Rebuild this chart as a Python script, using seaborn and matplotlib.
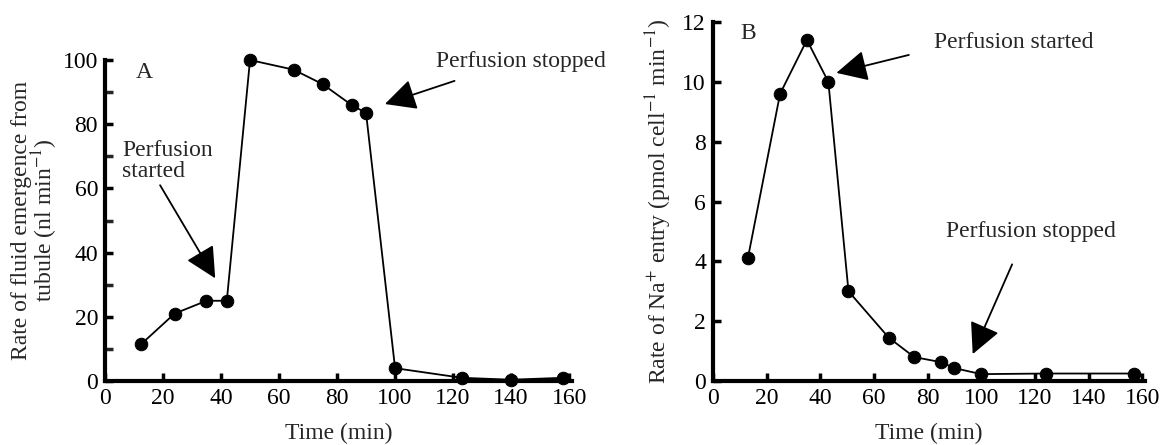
import matplotlib
matplotlib.use("Agg")
import matplotlib.pyplot as plt
import seaborn as sns
import pandas as pd

# ---- data ----
time_a = [12.5, 24, 35, 42, 50, 65, 75, 85, 90, 100, 123, 140, 158]
fluid_rate = [11.5, 21, 25, 25, 100, 97, 92.5, 86, 83.5, 4, 1.0, 0.4, 1.0]

time_b = [13, 25, 35, 43, 50.5, 65.5, 75, 85, 90, 100, 124, 157]
na_rate = [4.1, 9.6, 11.4, 10.0, 3.0, 1.45, 0.8, 0.63, 0.43, 0.23, 0.25, 0.25]

xticks = [0, 20, 40, 60, 80, 100, 120, 140, 160]
yticks_a = [0, 20, 40, 60, 80, 100]
yticks_b = [0, 2, 4, 6, 8, 10, 12]

sns.set_style("ticks")
plt.rcParams['font.family'] = ['Liberation Serif', 'DejaVu Serif']
plt.rcParams['mathtext.fontset'] = 'stix'

FS = 17
fig = plt.figure(figsize=(11.65, 4.45), dpi=100)
axA = fig.add_axes([0.0901, 0.1438, 0.4009, 0.7213])
axB = fig.add_axes([0.612, 0.1438, 0.3708, 0.8067])

dfA = pd.DataFrame({"t": time_a, "v": fluid_rate})
dfB = pd.DataFrame({"t": time_b, "v": na_rate})

for ax, df in ((axA, dfA), (axB, dfB)):
    sns.lineplot(data=df, x="t", y="v", ax=ax, color="black", lw=1.3,
                 marker="o", markersize=9, markeredgecolor="black",
                 markerfacecolor="black", clip_on=False, zorder=5)
    ax.set_xlim(0, 161)
    ax.set_xticks(xticks)
    ax.set_xticklabels([str(t) for t in xticks], fontsize=FS)
    for s in ("top", "right"):
        ax.spines[s].set_visible(False)
    for s in ("left", "bottom"):
        ax.spines[s].set_linewidth(3)
        ax.spines[s].set_color("black")
    ax.tick_params(direction="in", length=6, width=2.5, pad=5,
                   labelsize=FS, colors="black")
    ax.set_xlabel("Time (min)", fontsize=FS, labelpad=10)

axA.set_ylim(0, 100)
axA.set_yticks(yticks_a)
axA.set_yticklabels([str(t) for t in yticks_a], fontsize=FS)
axA.set_yticks(range(10, 100, 20), minor=True)
axA.tick_params(which="minor", direction="in", length=6, width=2.5)
axA.set_ylabel("Rate of fluid emergence from\ntubule (nl min$^{-1}$)",
               fontsize=FS, labelpad=2, linespacing=0.9)

axB.set_ylim(0, 12)
axB.set_yticks(yticks_b)
axB.set_yticklabels([str(t) for t in yticks_b], fontsize=FS)
axB.set_ylabel("Rate of Na$^{+}$ entry (pmol cell$^{-1}$ min$^{-1}$)",
               fontsize=FS, labelpad=6)

arrow = dict(arrowstyle="-|>,head_length=0.8,head_width=0.4",
             mutation_scale=24, lw=1.3, color="black", shrinkA=0, shrinkB=0)

# panel A annotations
axA.text(10.5, 96, "A", fontsize=FS, va="center", ha="left")
axA.text(6, 68.5, "Perfusion\nstarted", fontsize=FS, va="center", ha="left",
         linespacing=1.0)
axA.annotate("", xy=(38, 32), xytext=(19, 61), arrowprops=arrow,
             annotation_clip=False)
axA.text(114, 99.5, "Perfusion stopped", fontsize=FS, va="center", ha="left",
         clip_on=False)
axA.annotate("", xy=(96.5, 86.3), xytext=(120.5, 93.5), arrowprops=arrow,
             annotation_clip=False)

# panel B annotations
axB.text(10.3, 11.6, "B", fontsize=FS, va="center", ha="left")
axB.text(82.5, 11.3, "Perfusion started", fontsize=FS, va="center", ha="left")
axB.annotate("", xy=(46, 10.3), xytext=(73, 10.9), arrowprops=arrow,
             annotation_clip=False)
axB.text(87, 5.0, "Perfusion stopped", fontsize=FS, va="center", ha="left")
axB.annotate("", xy=(96.8, 0.9), xytext=(111.5, 3.9), arrowprops=arrow,
             annotation_clip=False)

fig.savefig("out.png", dpi=100)
